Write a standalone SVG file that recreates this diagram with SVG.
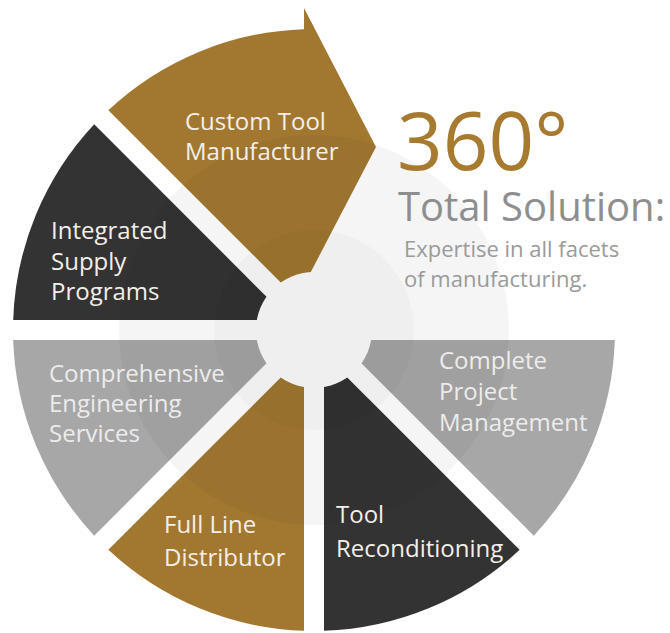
<svg xmlns="http://www.w3.org/2000/svg" width="670" height="633" viewBox="0 0 670 633">
  <style>
    .seg-gold { fill: #a27830; }
    .seg-dark { fill: #333333; }
    .seg-gray { fill: #a7a7a7; }
    .lbl { font-family: "Open Sans", "Liberation Sans", sans-serif; font-size: 24px; font-weight: 400; }
    .lbl-light { fill: #f3efe8; }
    .lbl-gray { fill: #ececec; }
    .head { font-family: "Open Sans", "Liberation Sans", sans-serif; font-weight: 400; }
  </style>
  <rect width="670" height="633" fill="#ffffff"/>

  <g id="segments">
    <g id="custom-tool-manufacturer">
      <path class="seg-gold" d="M304 305.86 L108.35 110.21 A301 301 0 0 1 304 29.17 L304 8 L376 147 L304 285 Z"/>
    </g>
    <g id="integrated-supply-programs">
      <path class="seg-dark" d="M289.86 320 L13.17 320 A301 301 0 0 1 94.21 124.35 Z"/>
    </g>
    <g id="comprehensive-engineering-services">
      <path class="seg-gray" d="M289.86 340 L94.21 535.65 A301 301 0 0 1 13.17 340 Z"/>
    </g>
    <g id="full-line-distributor">
      <path class="seg-gold" d="M304 354.14 L304 630.83 A301 301 0 0 1 108.35 549.79 Z"/>
    </g>
    <g id="tool-reconditioning">
      <path class="seg-dark" d="M324 354.14 L519.65 549.79 A301 301 0 0 1 324 630.83 Z"/>
    </g>
    <g id="complete-project-management">
      <path class="seg-gray" d="M338.14 340 L614.83 340 A301 301 0 0 1 533.79 535.65 Z"/>
    </g>
  </g>

  <g id="backdrop">
    <circle cx="314" cy="330" r="195" fill="#000000" fill-opacity="0.04"/>
    <circle cx="314" cy="330" r="100" fill="#000000" fill-opacity="0.025"/>
  </g>
  <g id="hub">
    <circle cx="314" cy="330" r="58" fill="#efefef"/>
  </g>

  <g id="connectors"/>

  <g id="labels" class="lbl">
    <text class="lbl-light" x="185" y="130">Custom Tool</text>
    <text class="lbl-light" x="185" y="160">Manufacturer</text>
    <text class="lbl-light" x="51" y="239">Integrated</text>
    <text class="lbl-light" x="51" y="270">Supply</text>
    <text class="lbl-light" x="51" y="300">Programs</text>
    <text class="lbl-gray" x="49" y="382">Comprehensive</text>
    <text class="lbl-gray" x="49" y="412">Engineering</text>
    <text class="lbl-gray" x="49" y="442">Services</text>
    <text class="lbl-light" x="164" y="533">Full Line</text>
    <text class="lbl-light" x="164" y="566">Distributor</text>
    <text class="lbl-light" x="336" y="523">Tool</text>
    <text class="lbl-light" x="336" y="557">Reconditioning</text>
    <text class="lbl-gray" x="439" y="369">Complete</text>
    <text class="lbl-gray" x="439" y="400">Project</text>
    <text class="lbl-gray" x="439" y="431">Management</text>
  </g>

  <g id="title">
    <text class="head" x="397" y="170" font-size="80" font-weight="300" fill="#a67b2f">360°</text>
    <text class="head" x="398" y="221" font-size="40" fill="#8e8e8e">Total Solution:</text>
    <text class="head" x="404" y="257" font-size="22" fill="#9a9a9a">Expertise in all facets</text>
    <text class="head" x="404" y="287" font-size="22" fill="#9a9a9a">of manufacturing.</text>
  </g>
</svg>
